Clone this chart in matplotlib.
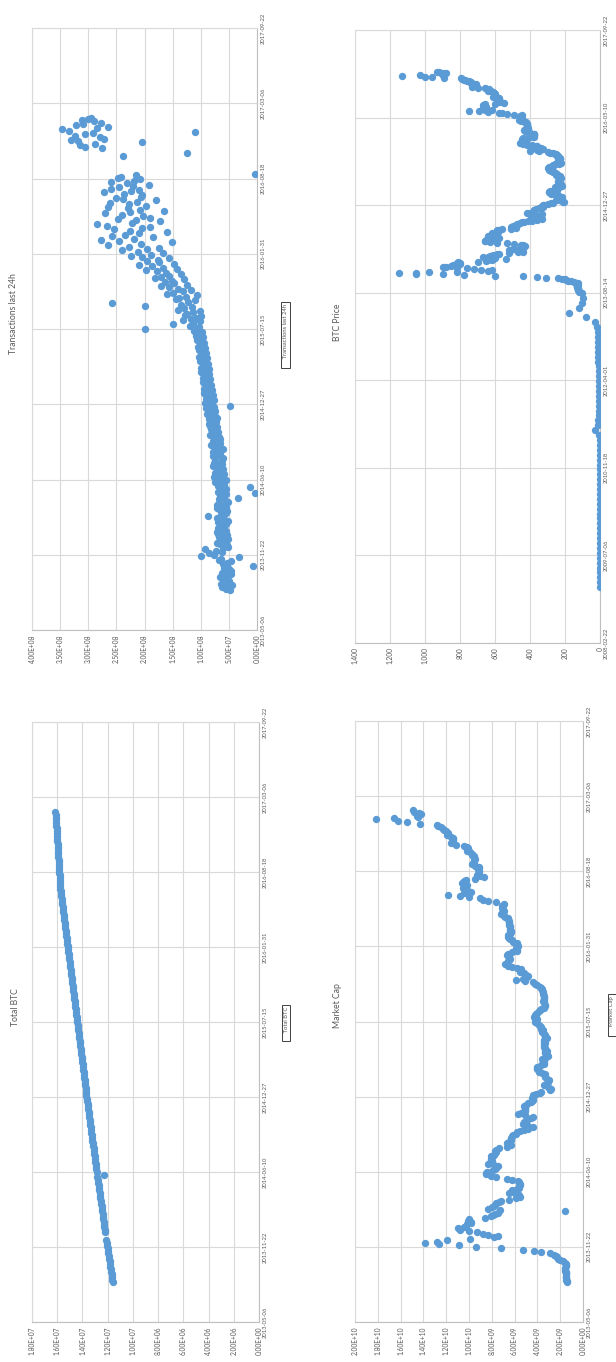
import numpy as np
import pandas as pd
import matplotlib
matplotlib.use("Agg")
import matplotlib.pyplot as plt
import matplotlib.dates as mdates
from matplotlib.ticker import FuncFormatter
from matplotlib.lines import Line2D

plt.rcParams['font.family'] = ['Lato', 'DejaVu Sans']

W, H = 616, 1362
BLUE = '#5B9BD5'
GRID = '#D9D9D9'
TXT = '#595959'

# ---- data -------------------------------------------------------------
weekly_dates = pd.date_range("2013-08-20", periods=180, freq="7D")   # Tuesdays
midweek_dates = pd.date_range("2013-08-23", periods=180, freq="7D")  # Fridays
early_price_dates = pd.date_range("2009-01-06", periods=61, freq="28D")

# transactions in the last 24h (x 1e7), Tuesday readings
tx_24h = [
    4.8, 6.2, 4.5, 5.9, 5.2, 6.5, 4.6, 5.7, 5.0, 0.8,
    6.1, 4.7, 6.4, 9.9, 8.6, 7.3, 6.0, 5.4, 7.1, 5.9,
    6.8, 5.3, 7.2, 6.0, 6.6, 5.5, 7.0, 5.8, 8.7, 6.2,
    5.4, 7.1, 6.0, 6.7, 5.5, 3.3, 6.6, 0.4, 6.1, 1.2,
    5.8, 7.4, 5.5, 7.6, 5.9, 7.2, 6.0, 7.8, 6.3, 7.5,
    6.1, 7.9, 6.5, 7.4, 6.4, 8.1, 6.6, 7.7, 6.8, 8.4,
    7.0, 8.2, 7.1, 8.6, 7.3, 8.5, 7.5, 8.9, 7.4, 9.0,
    4.8, 9.2, 7.7, 8.8, 7.9, 9.4, 8.0, 9.1, 8.2, 9.6,
    8.3, 9.3, 8.5, 9.9, 8.6, 9.5, 8.8, 10.2, 8.9, 9.8,
    9.1, 10.4, 9.2, 10.1, 9.4, 10.6, 9.6, 10.3, 9.8, 20.0,
    10.4, 15.0, 10.2, 11.8, 9.9, 12.4, 10.1, 13.0, 20.0, 25.8,
    11.0, 13.8, 10.6, 15.0, 11.8, 15.6, 12.4, 16.4, 13.0, 17.0,
    13.6, 17.8, 14.2, 18.6, 14.8, 19.5, 15.6, 22.4, 16.8, 24.0,
    17.5, 26.5, 15.2, 27.8, 18.5, 23.5, 16.0, 25.5, 19.0, 28.5,
    17.2, 24.8, 20.2, 27.0, 16.5, 23.0, 19.8, 26.2, 18.0, 25.0,
    20.5, 27.2, 21.0, 24.5, 19.2, 26.0, 20.8, 24.2, 0.3, np.nan,
    np.nan, np.nan, np.nan, np.nan, np.nan, 23.8, 12.5, np.nan, 27.5, 31.5,
    20.4, 33.0, 28.0, 30.5, 11.0, 34.7, 26.5, 31.0, 29.0, 30.0,
]

# transactions in the last 24h (x 1e7), Friday readings
tx_24h_mid = [
    5.6, 5.1, 6.4, 4.9, 6.0, 5.4, 6.2, 4.7, 5.9, 5.3,
    5.3, 6.7, 3.2, 7.6, 6.2, 9.2, 5.1, 6.5, 6.3, 5.2,
    6.1, 6.9, 5.6, 7.0, 5.8, 6.6, 5.2, 7.1, 6.4, 5.5,
    6.6, 5.6, 7.2, 5.2, 6.8, 6.0, 5.5, 6.9, 5.6, 7.0,
    6.6, 6.2, 7.0, 6.4, 7.5, 6.3, 7.1, 6.9, 7.6, 6.2,
    7.4, 6.8, 7.9, 6.0, 7.6, 7.0, 7.9, 6.5, 7.8, 7.2,
    8.0, 7.4, 8.3, 7.6, 8.4, 7.2, 8.2, 7.9, 8.6, 7.7,
    8.4, 8.6, 9.0, 8.1, 9.2, 8.4, 9.5, 8.5, 9.3, 8.9,
    9.6, 8.8, 9.4, 9.1, 10.0, 9.2, 9.7, 9.4, 10.3, 9.4,
    9.8, 9.6, 10.5, 9.7, 10.1, 10.0, 10.8, 9.9, 11.2, 10.6,
    12.0, 11.3, 13.2, 10.8, 12.8, 11.4, 14.0, 11.6, 13.6, 12.2,
    14.4, 12.6, 16.0, 13.2, 14.0, 17.0, 14.8, 15.2, 18.2, 15.6,
    16.2, 19.8, 16.8, 21.0, 17.4, 17.6, 20.4, 18.8, 21.2, 19.6,
    22.8, 20.6, 24.5, 21.8, 25.8, 21.0, 22.6, 20.4, 26.6, 22.2,
    21.6, 19.0, 24.0, 22.5, 20.8, 26.5, 22.8, 21.4, 23.8, 20.6,
    23.6, 22.4, 26.0, 22.0, 23.2, 21.8, 24.8, 21.5, np.nan, np.nan,
    np.nan, np.nan, np.nan, np.nan, np.nan, np.nan, np.nan, np.nan, 30.5, 28.8,
    31.8, 27.2, 32.4, 29.2, 33.5, 28.4, 32.2, 27.8, 31.2, 29.6,
]

# total bitcoins in circulation (millions), weekly
total_btc = [
    11.590, 11.621, 11.655, 11.686, 11.719, 11.749, 11.783, 11.813, 11.847, 11.877,
    11.911, 11.941, 11.975, 12.005, 12.039, 12.069, 12.103, np.nan, np.nan, 12.198,
    12.227, 12.256, 12.285, 12.314, 12.343, 12.372, 12.401, 12.430, 12.459, 12.488,
    12.517, 12.546, 12.575, 12.604, 12.633, 12.662, 12.691, 12.720, 12.749, 12.778,
    12.807, 12.300, 12.865, 12.894, 12.923, 12.952, 12.980, 13.008, 13.036, 13.064,
    13.092, 13.120, 13.148, 13.176, 13.204, 13.232, 13.260, 13.288, 13.316, 13.344,
    13.372, 13.400, 13.428, 13.456, 13.484, 13.512, 13.540, 13.568, 13.596, 13.624,
    13.652, 13.680, 13.705, 13.731, 13.756, 13.782, 13.807, 13.833, 13.858, 13.884,
    13.909, 13.935, 13.960, 13.986, 14.011, 14.037, 14.062, 14.088, 14.113, 14.139,
    14.164, 14.190, 14.215, 14.241, 14.266, 14.292, 14.317, 14.343, 14.370, 14.397,
    14.424, 14.451, 14.478, 14.505, 14.532, 14.559, 14.586, 14.613, 14.640, 14.667,
    14.694, 14.721, 14.748, 14.775, 14.802, 14.829, 14.856, 14.883, 14.910, 14.937,
    14.964, 14.991, 15.018, 15.045, 15.071, 15.097, 15.123, 15.149, 15.175, 15.201,
    15.227, 15.253, 15.279, 15.305, 15.331, 15.357, 15.383, 15.409, 15.435, 15.461,
    15.487, 15.513, 15.539, 15.565, 15.591, 15.617, 15.643, 15.669, 15.695, 15.721,
    15.747, 15.760, 15.774, 15.787, 15.801, 15.814, 15.828, 15.841, 15.855, 15.868,
    15.882, 15.895, 15.909, 15.922, 15.936, 15.949, 15.963, 15.976, 15.990, 16.003,
    16.017, 16.030, 16.044, 16.057, 16.071, 16.084, 16.098, 16.111, 16.125, 16.138,
]

# BTC price (USD), 2009 - mid 2013 at four-week steps
price_early = [
    0, 0, 0, 0, 0, 0, 0, 0, 0, 0,
    0, 0, 0, 0, 0, 0, 0, 0, 0, 0,
    0.07, 0.07, 0.06, 0.1, 0.25, 0.28, 0.3, 0.9, 0.9, 0.8,
    1.5, 7, 28, 14, 11, 6, 4, 3, 3, 6,
    5.5, 5, 4.9, 5.1, 5.1, 6.3, 9, 11.5, 11, 12,
    11, 13, 13.5, 19, 31, 78, 175, 122, 105, 95,
    105,
]

# BTC price (USD), Tuesday readings from Aug 2013
price_weekly = [
    120, 125, 128, 127, 130, 133, 130, 128, 148, 185,
    200, 240, 360, 600, 900, 1150, 980, 640, 680, 760,
    880, 850, 830, 800, 810, 650, 620, 540, 670, 630,
    610, 580, 470, 450, 520, 490, 440, 430, 440, 490,
    590, 660, 650, 600, 580, 640, 620, 620, 620, 585,
    590, 560, 480, 510, 480, 475, 460, 435, 390, 330,
    395, 385, 355, 330, 420, 380, 375, 380, 350, 330,
    330, 320, 280, 210, 215, 250, 225, 220, 240, 238,
    280, 290, 285, 245, 245, 255, 220, 235, 225, 235,
    240, 235, 237, 225, 230, 250, 245, 260, 270, 290,
    278, 295, 285, 268, 255, 225, 230, 240, 230, 230,
    238, 245, 250, 270, 295, 400, 330, 335, 370, 360,
    415, 455, 440, 425, 430, 440, 380, 390, 375, 380,
    405, 425, 435, 410, 415, 415, 420, 420, 425, 440,
    465, 445, 450, 455, 445, 530, 575, 690, 660, 650,
    670, 650, 670, 655, 550, 590, 575, 580, 575, 610,
    605, 600, 605, 610, 640, 635, 655, 730, 710, 710,
    740, 735, 760, 780, 795, 960, 1130, 900, 880, 920,
]

# BTC price (USD), Friday readings from Aug 2013
price_midweek = [
    122, 127, 126, 129, 131, 128, 129, 137, 165, 195,
    215, 310, 440, 780, 1050, 1050, 820, 620, 720, 820,
    900, 840, 800, 820, 700, 640, 610, 600, 640, 620,
    590, 520, 440, 470, 500, 460, 445, 435, 450, 530,
    630, 660, 620, 590, 600, 630, 625, 615, 595, 585,
    580, 510, 500, 495, 480, 470, 445, 410, 360, 360,
    390, 370, 340, 380, 400, 375, 375, 365, 340, 325,
    325, 300, 270, 205, 235, 230, 225, 230, 240, 265,
    280, 290, 265, 245, 250, 235, 225, 230, 230, 240,
    237, 236, 230, 228, 240, 248, 255, 265, 280, 285,
    290, 290, 277, 262, 235, 228, 235, 235, 230, 235,
    240, 248, 260, 285, 350, 360, 325, 350, 365, 390,
    440, 450, 430, 430, 445, 410, 385, 380, 378, 400,
    420, 430, 420, 412, 415, 418, 420, 422, 430, 450,
    455, 448, 455, 450, 490, 560, 640, 750, 620, 660,
    660, 660, 660, 600, 570, 585, 578, 575, 600, 608,
    602, 602, 608, 625, 638, 645, 700, 720, 710, 725,
    738, 750, 770, 790, 890, 1000, 1030, 905, 895, 930,
]

# market capitalisation (USD, x 1e9), Tuesday readings
market_cap = [
    1.39, 1.45, 1.49, 1.48, 1.52, 1.56, 1.53, 1.51, 1.75, 2.20,
    2.39, 2.87, 4.32, 7.23, 10.88, 13.9, 11.9, 7.8, 8.3, 9.3,
    10.8, 10.4, 10.2, 9.8, 10.0, 8.05, 7.7, 1.6, 8.3, 7.8,
    7.6, 7.2, 5.9, 5.6, 6.5, 6.2, 5.6, 5.5, 5.6, 6.2,
    7.6, 8.5, 8.4, 7.7, 7.5, 8.3, 8.0, 8.1, 8.1, 7.7,
    7.7, 7.4, 6.3, 6.7, 6.3, 6.3, 6.1, 5.8, 5.2, 4.4,
    5.3, 5.2, 4.8, 4.4, 5.7, 5.1, 5.1, 5.2, 4.8, 4.5,
    4.5, 4.4, 3.8, 2.9, 3.0, 3.4, 3.1, 3.0, 3.3, 3.3,
    3.9, 4.0, 4.0, 3.4, 3.4, 3.6, 3.1, 3.3, 3.2, 3.3,
    3.4, 3.3, 3.4, 3.2, 3.3, 3.6, 3.5, 3.7, 3.9, 4.2,
    4.0, 4.3, 4.1, 3.9, 3.7, 3.3, 3.4, 3.5, 3.4, 3.4,
    3.5, 3.6, 3.7, 4.0, 4.4, 5.9, 4.9, 5.0, 5.5, 5.4,
    6.2, 6.8, 6.6, 6.4, 6.5, 6.6, 5.8, 5.9, 5.7, 5.8,
    6.2, 6.5, 6.6, 6.3, 6.4, 6.4, 6.5, 6.5, 6.6, 6.8,
    7.2, 6.9, 7.0, 7.1, 6.9, 8.3, 9.0, 10.8, 10.4, 10.2,
    10.5, 10.2, 10.6, 10.3, 8.7, 9.3, 9.1, 9.2, 9.1, 9.7,
    9.6, 9.5, 9.6, 9.7, 10.2, 10.1, 10.4, 11.6, 11.4, 11.4,
    11.9, 11.8, 12.2, 12.5, 12.8, 15.4, 18.2, 14.5, 14.2, 14.8,
]

# market capitalisation (USD, x 1e9), Friday readings
market_cap_mid = [
    1.42, 1.47, 1.48, 1.50, 1.54, 1.54, 1.52, 1.62, 1.98, 2.32,
    2.58, 3.7, 5.3, 9.4, 12.6, 12.8, 9.9, 7.5, 8.8, 10.0,
    11.0, 10.3, 9.8, 10.1, 8.6, 7.9, 7.5, 7.3, 8.0, 7.7,
    7.4, 6.5, 5.5, 5.9, 6.3, 5.8, 5.6, 5.5, 5.7, 6.7,
    8.1, 8.5, 8.0, 7.6, 7.8, 8.2, 8.1, 8.0, 7.8, 7.6,
    7.6, 6.7, 6.6, 6.5, 6.3, 6.2, 5.9, 5.5, 4.8, 4.8,
    5.2, 5.0, 4.6, 5.1, 5.4, 5.1, 5.1, 5.0, 4.6, 4.4,
    4.4, 4.1, 3.7, 2.8, 3.2, 3.2, 3.1, 3.2, 3.3, 3.6,
    3.9, 4.0, 3.7, 3.4, 3.5, 3.3, 3.2, 3.3, 3.3, 3.4,
    3.4, 3.4, 3.3, 3.3, 3.4, 3.6, 3.7, 3.8, 4.0, 4.1,
    4.2, 4.2, 4.0, 3.8, 3.4, 3.3, 3.4, 3.4, 3.4, 3.5,
    3.5, 3.6, 3.8, 4.2, 5.1, 5.3, 4.8, 5.2, 5.4, 5.8,
    6.6, 6.7, 6.5, 6.5, 6.7, 6.2, 5.8, 5.8, 5.8, 6.1,
    6.4, 6.6, 6.4, 6.3, 6.4, 6.4, 6.5, 6.5, 6.6, 6.9,
    7.1, 7.0, 7.1, 7.0, 7.6, 8.8, 10.0, 11.8, 9.8, 10.4,
    10.4, 10.4, 10.4, 9.5, 9.0, 9.2, 9.1, 9.1, 9.5, 9.6,
    9.6, 9.6, 9.7, 9.9, 10.1, 10.2, 11.1, 11.5, 11.4, 11.6,
    11.8, 12.0, 12.3, 12.7, 14.3, 16.2, 16.6, 14.6, 14.4, 14.9,
]

short_date_ticks = pd.date_range("2013-05-06", periods=9, freq="200D")
long_date_ticks = pd.date_range("2008-02-22", periods=8, freq="500D")

tx_ticks = np.arange(0, 4.0e8 + 1, 5.0e7)
btc_ticks = np.arange(0, 1.8e7 + 1, 2.0e6)
price_ticks = np.arange(0, 1401, 200)
mcap_ticks = np.arange(0, 2.0e10 + 1, 2.0e9)

# ---- figure -----------------------------------------------------------
fig = plt.figure(figsize=(W / 100, H / 100), dpi=100)
fig.patch.set_facecolor('white')


def px_rect(x0, y0, x1, y1):
    return [x0 / W, 1 - y1 / H, (x1 - x0) / W, (y1 - y0) / H]


sci_fmt = FuncFormatter(lambda v, pos: f"{v:.2E}")
comma_fmt = FuncFormatter(lambda v, pos: f"{v:,.0f}")


def scaled(vals, k):
    return [x * k if x == x else np.nan for x in vals]


def panel(rect, parts, date_ticks, val_ticks, fmt):
    ax = fig.add_axes(rect)
    for dates, values in parts:
        n = min(len(dates), len(values))
        d = mdates.date2num(pd.DatetimeIndex(dates[:n]).to_pydatetime())
        v = np.asarray(values[:n], dtype=float)
        ax.scatter(v, d, s=28, color=BLUE, linewidths=0, zorder=3)
    ax.set_xlim(val_ticks[-1], val_ticks[0])
    tnum = mdates.date2num(date_ticks.to_pydatetime())
    ax.set_ylim(tnum[0], tnum[-1])
    ax.set_xticks(val_ticks)
    ax.xaxis.set_major_formatter(fmt)
    ax.set_yticks(tnum)
    ax.set_yticklabels([t.strftime('%Y-%m-%d') for t in date_ticks])
    ax.yaxis.tick_right()
    ax.tick_params(axis='x', labelrotation=90, length=0, pad=3,
                   labelsize=4.8, labelcolor=TXT)
    ax.tick_params(axis='y', labelrotation=90, length=0, pad=3,
                   labelsize=4.2, labelcolor=TXT)
    for lbl in ax.get_yticklabels():
        lbl.set_va('center')
    ax.grid(True, color=GRID, lw=0.8, zorder=0)
    ax.set_axisbelow(True)
    for side, sp in ax.spines.items():
        sp.set_color('#BFBFBF' if side in ('bottom', 'right') else GRID)
        sp.set_linewidth(0.8)
    return ax


def title(x, y, s):
    fig.text(x / W, 1 - y / H, s, rotation=90, ha='center', va='center',
             fontsize=6.2, color=TXT)


legend_items = []


def legend(x, y, s):
    t = fig.text(x / W, 1 - y / H, "     " + s, rotation=90, ha='center',
                 va='center', fontsize=4.2, color=TXT,
                 bbox=dict(boxstyle='square,pad=0.3', fc='white',
                           ec='#404040', lw=0.7))
    legend_items.append(t)


panel(px_rect(32, 28, 257, 630),
      [(weekly_dates, scaled(tx_24h, 1e7)),
       (midweek_dates, scaled(tx_24h_mid, 1e7))],
      short_date_ticks, tx_ticks, sci_fmt)
title(14, 314, "Transactions last 24h")
legend(285.5, 335, "Transactions last 24h")

panel(px_rect(355, 30, 600, 643),
      [(early_price_dates, price_early),
       (weekly_dates, price_weekly),
       (midweek_dates, price_midweek)],
      long_date_ticks, price_ticks, comma_fmt)
title(338, 322, "BTC Price")

panel(px_rect(32, 722, 259, 1322),
      [(weekly_dates, scaled(total_btc, 1e6))],
      short_date_ticks, btc_ticks, sci_fmt)
title(15, 1007, "Total BTC")
legend(286, 1023, "Total BTC")

panel(px_rect(355, 721, 583, 1322),
      [(weekly_dates, scaled(market_cap, 1e9)),
       (midweek_dates, scaled(market_cap_mid, 1e9))],
      short_date_ticks, mcap_ticks, sci_fmt)
title(338, 1006, "Market Cap")
legend(612, 1015, "Market Cap")

# legend markers at the start of each rotated legend entry
fig.canvas.draw()
renderer = fig.canvas.get_renderer()
for t in legend_items:
    bb = t.get_window_extent(renderer)
    mx = (bb.x0 + bb.x1) / 2
    my = bb.y0 + 3.5
    fig.add_artist(Line2D([mx / W], [my / H], transform=fig.transFigure,
                          marker='s', ms=2.2, color=BLUE, ls='none'))

fig.savefig("out.png", dpi=100, facecolor='white')
